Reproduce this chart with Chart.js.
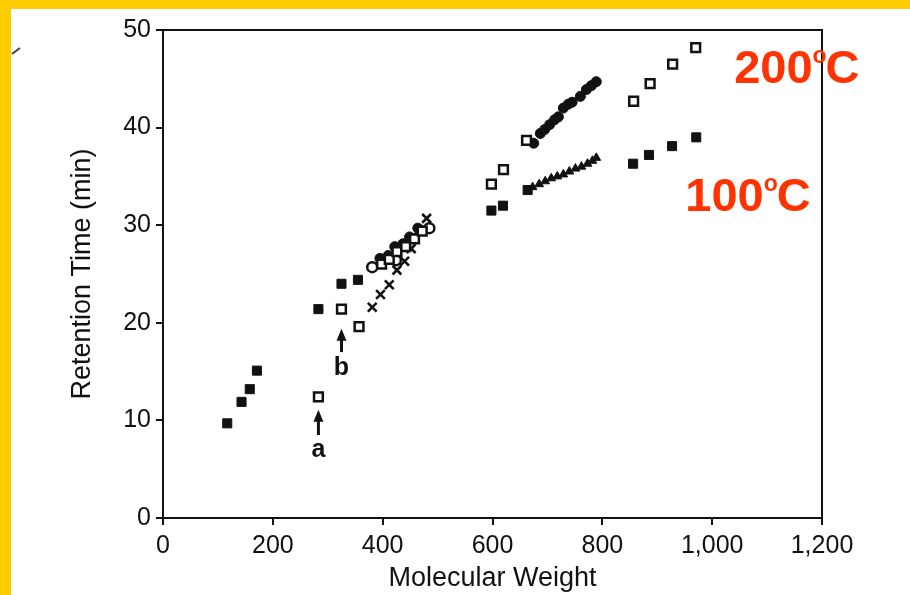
<!DOCTYPE html>
<html>
<head>
<meta charset="utf-8">
<script src="https://cdn.jsdelivr.net/npm/chart.js@4.4.1/dist/chart.umd.min.js"></script>
<style>
html, body { margin: 0; padding: 0; background: #fff; }
#marco { width: 910px; height: 595px; position: relative; }
</style>
</head>
<body>
<div id="marco"><canvas id="grafico"></canvas></div>
<script>
// cuadrados llenos
const pmCuadroLleno = [117, 143, 158, 171, 283, 325, 355, 598, 619, 664, 856, 885, 927, 971];
const trCuadroLleno = [9.7, 11.9, 13.2, 15.1, 21.4, 24.0, 24.4, 31.5, 32.0, 33.6, 36.3, 37.2, 38.1, 39.0];

// cuadrados abiertos
const pmCuadroAbierto = [283, 325, 357, 398, 412, 426, 442, 458, 472, 598, 620, 662, 857, 887, 928, 970];
const trCuadroAbierto = [12.4, 21.4, 19.6, 26.0, 26.5, 27.3, 27.8, 28.6, 29.4, 34.2, 35.7, 38.7, 42.7, 44.5, 46.5, 48.2];

// circulos abiertos
const pmCirculoAbierto = [381, 424, 485];
const trCirculoAbierto = [25.7, 26.4, 29.7];

// circulos llenos
const pmCirculoLleno = [395, 410, 422, 437, 449, 464, 675, 687, 695, 704, 713, 720, 729, 738, 745, 760, 771, 780, 789];
const trCirculoLleno = [26.6, 26.9, 27.8, 28.1, 28.8, 29.7, 38.4, 39.4, 39.8, 40.3, 40.8, 41.1, 42.0, 42.4, 42.6, 43.2, 43.9, 44.3, 44.7];

// triangulos
const pmTriangulo = [673, 685, 696, 707, 718, 729, 740, 751, 762, 773, 782, 789];
const trTriangulo = [33.9, 34.2, 34.5, 34.8, 35.0, 35.2, 35.5, 35.8, 36.0, 36.3, 36.6, 36.9];

// cruces
const pmCruz = [381, 396, 412, 426, 440, 452, 466, 480];
const trCruz = [21.6, 22.9, 23.9, 25.4, 26.3, 27.6, 29.5, 30.7];

// etiquetas de temperatura y flechas (en coordenadas de datos)
const temperaturas = [
    { numero: '200', x: 1040, y: 44.6 },
    { numero: '100', x: 951, y: 31.5 }
];
const flechas = [
    { letra: 'a', x: 283, cola: 8.5, punta: 11.1, texto: 7.0 },
    { letra: 'b', x: 325, cola: 17.0, punta: 19.4, texto: 15.4 }
];

const NEGRO = '#111111';
const ROJO = '#ff3300';
const FUENTE = "'Liberation Sans', Arial, sans-serif";

function unir(xs, ys) {
    return xs.map((x, i) => ({ x: x, y: ys[i] }));
}

const fondo = {
    id: 'fondo',
    beforeDraw(chart) {
        const ctx = chart.ctx;
        ctx.save();
        ctx.fillStyle = '#ffffff';
        ctx.fillRect(0, 0, chart.width, chart.height);
        ctx.fillStyle = '#ffcc00';
        ctx.fillRect(0, 0, chart.width, 9);
        ctx.fillRect(0, 0, 11, chart.height);
        // pequeña marca del escaneo
        ctx.strokeStyle = '#444';
        ctx.lineWidth = 2;
        ctx.beginPath();
        ctx.moveTo(12, 54);
        ctx.lineTo(20, 48);
        ctx.stroke();
        ctx.restore();
    }
};

const anotaciones = {
    id: 'anotaciones',
    afterDraw(chart) {
        const ctx = chart.ctx;
        const a = chart.chartArea;
        const sx = chart.scales.x;
        const sy = chart.scales.y;
        ctx.save();
        // marco superior y derecho
        ctx.strokeStyle = NEGRO;
        ctx.lineWidth = 2;
        ctx.beginPath();
        ctx.moveTo(a.left, a.top);
        ctx.lineTo(a.right, a.top);
        ctx.lineTo(a.right, a.bottom);
        ctx.stroke();

        // flechas a y b
        flechas.forEach(f => {
            const px = sx.getPixelForValue(f.x);
            const yc = sy.getPixelForValue(f.cola);
            const yp = sy.getPixelForValue(f.punta);
            ctx.strokeStyle = NEGRO;
            ctx.fillStyle = NEGRO;
            ctx.lineWidth = 3;
            ctx.beginPath();
            ctx.moveTo(px, yc);
            ctx.lineTo(px, yp + 8);
            ctx.stroke();
            ctx.beginPath();
            ctx.moveTo(px, yp);
            ctx.lineTo(px - 5, yp + 12);
            ctx.lineTo(px + 5, yp + 12);
            ctx.closePath();
            ctx.fill();
            ctx.font = 'bold 25px ' + FUENTE;
            ctx.textAlign = 'center';
            ctx.textBaseline = 'middle';
            ctx.fillText(f.letra, px, sy.getPixelForValue(f.texto));
        });

        // 200oC y 100oC
        temperaturas.forEach(t => {
            let px = sx.getPixelForValue(t.x);
            const py = sy.getPixelForValue(t.y);
            ctx.fillStyle = ROJO;
            ctx.textAlign = 'left';
            ctx.textBaseline = 'alphabetic';
            ctx.font = 'bold 47px ' + FUENTE;
            ctx.fillText(t.numero, px, py);
            px += ctx.measureText(t.numero).width;
            ctx.font = 'bold 23px ' + FUENTE;
            ctx.fillText('o', px, py - 20);
            px += ctx.measureText('o').width - 1;
            ctx.font = 'bold 47px ' + FUENTE;
            ctx.fillText('C', px, py);
        });
        ctx.restore();
    }
};

new Chart(document.getElementById('grafico'), {
    type: 'scatter',
    data: {
        datasets: [
            {
                label: 'cuadro lleno',
                data: unir(pmCuadroLleno, trCuadroLleno),
                pointStyle: 'rect',
                pointRadius: 6.4,
                backgroundColor: NEGRO,
                borderColor: NEGRO,
                borderWidth: 1
            },
            {
                label: 'cuadro abierto',
                data: unir(pmCuadroAbierto, trCuadroAbierto),
                pointStyle: 'rect',
                pointRadius: 6.2,
                backgroundColor: '#ffffff',
                borderColor: NEGRO,
                borderWidth: 2.5
            },
            {
                label: 'circulo abierto',
                data: unir(pmCirculoAbierto, trCirculoAbierto),
                pointStyle: 'circle',
                pointRadius: 5,
                backgroundColor: '#ffffff',
                borderColor: NEGRO,
                borderWidth: 2.5
            },
            {
                label: 'circulo lleno',
                data: unir(pmCirculoLleno, trCirculoLleno),
                pointStyle: 'circle',
                pointRadius: 5,
                backgroundColor: NEGRO,
                borderColor: NEGRO,
                borderWidth: 1
            },
            {
                label: 'triangulo',
                data: unir(pmTriangulo, trTriangulo),
                pointStyle: 'triangle',
                pointRadius: 5,
                backgroundColor: NEGRO,
                borderColor: NEGRO,
                borderWidth: 1
            },
            {
                label: 'cruz',
                data: unir(pmCruz, trCruz),
                pointStyle: 'crossRot',
                pointRadius: 6.2,
                backgroundColor: NEGRO,
                borderColor: NEGRO,
                borderWidth: 2.6
            }
        ]
    },
    options: {
        responsive: true,
        maintainAspectRatio: false,
        animation: false,
        events: [],
        layout: { padding: { top: 30, right: 88, left: 0, bottom: 0 } },
        plugins: {
            legend: { display: false },
            tooltip: { enabled: false }
        },
        scales: {
            x: {
                type: 'linear',
                min: 0,
                max: 1200,
                afterFit: s => { s.height = 77; },
                ticks: {
                    stepSize: 200,
                    color: NEGRO,
                    padding: 6,
                    maxRotation: 0,
                    font: { family: FUENTE, size: 25 },
                    callback: v => v.toLocaleString('en-US')
                },
                grid: { drawOnChartArea: false, tickLength: 7, color: NEGRO, lineWidth: 2 },
                border: { color: NEGRO, width: 2 },
                title: {
                    display: true,
                    text: 'Molecular Weight',
                    color: NEGRO,
                    padding: { top: 0, bottom: 0 },
                    font: { family: FUENTE, size: 27 }
                }
            },
            y: {
                type: 'linear',
                min: 0,
                max: 50,
                afterFit: s => { s.width = 163; },
                ticks: {
                    stepSize: 10,
                    color: NEGRO,
                    padding: 5,
                    font: { family: FUENTE, size: 25 }
                },
                grid: { drawOnChartArea: false, tickLength: 7, color: NEGRO, lineWidth: 2 },
                border: { color: NEGRO, width: 2 },
                title: {
                    display: true,
                    text: 'Retention Time (min)',
                    color: NEGRO,
                    padding: { top: 66, bottom: 0 },
                    font: { family: FUENTE, size: 27 }
                }
            }
        }
    },
    plugins: [fondo, anotaciones]
});
</script>
</body>
</html>
